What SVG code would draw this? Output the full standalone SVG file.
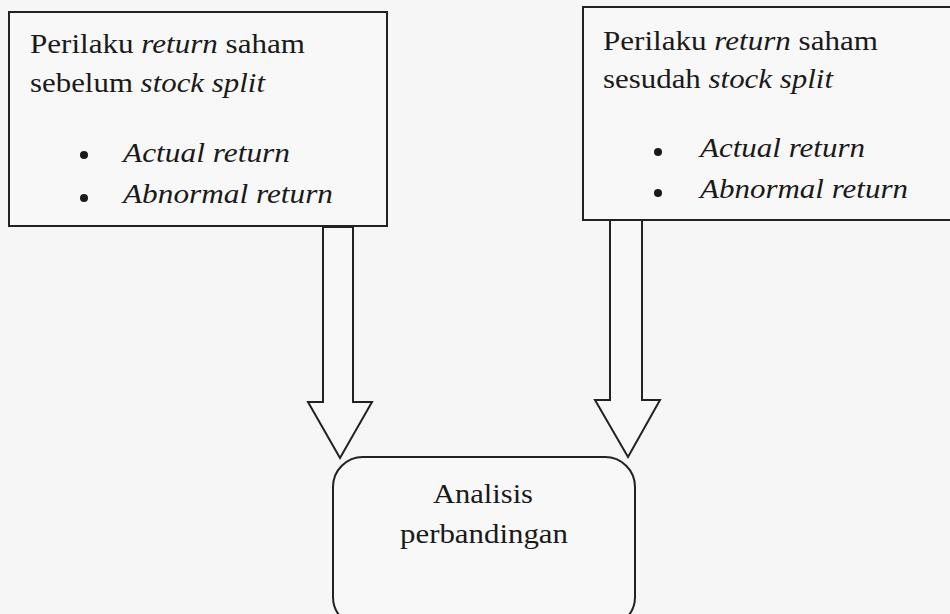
<svg xmlns="http://www.w3.org/2000/svg" width="950" height="614" viewBox="0 0 950 614">
<style>
.box{fill:#f8f8f8;stroke:#222;stroke-width:2}
.arr{fill:#f8f8f8;stroke:#222;stroke-width:2;stroke-linejoin:miter}
text{font-family:"Liberation Serif","Times New Roman",serif;font-size:27px;fill:#1a1a1a}
.i{font-style:italic}
</style>
<rect width="950" height="614" fill="#f6f6f6"/>
<g id="connectors">
<polygon class="arr" points="323,227 353,227 353,402 372,402 340,458 308,402 323,402"/>
<polygon class="arr" points="610,220 642,220 642,400 660,400 628,457 595,400 610,400"/>
</g>
<g id="node-before">
<rect class="box" x="9" y="12" width="378" height="214"/>
<text x="30" y="53" textLength="275" lengthAdjust="spacingAndGlyphs">Perilaku <tspan class="i">return</tspan> saham</text>
<text x="30" y="92" textLength="235" lengthAdjust="spacingAndGlyphs">sebelum <tspan class="i">stock split</tspan></text>
<circle cx="84" cy="155" r="4" fill="#1a1a1a"/>
<text class="i" x="123" y="162" textLength="167" lengthAdjust="spacingAndGlyphs">Actual return</text>
<circle cx="84" cy="198" r="4" fill="#1a1a1a"/>
<text class="i" x="123" y="203" textLength="210" lengthAdjust="spacingAndGlyphs">Abnormal return</text>
</g>
<g id="node-after">
<rect class="box" x="583" y="7" width="380" height="213"/>
<text x="603" y="50" textLength="275" lengthAdjust="spacingAndGlyphs">Perilaku <tspan class="i">return</tspan> saham</text>
<text x="603" y="88" textLength="230" lengthAdjust="spacingAndGlyphs">sesudah <tspan class="i">stock split</tspan></text>
<circle cx="658" cy="152" r="4" fill="#1a1a1a"/>
<text class="i" x="700" y="157" textLength="165" lengthAdjust="spacingAndGlyphs">Actual return</text>
<circle cx="658" cy="193" r="4" fill="#1a1a1a"/>
<text class="i" x="700" y="198" textLength="208" lengthAdjust="spacingAndGlyphs">Abnormal return</text>
</g>
<g id="node-analysis">
<rect class="box" x="333" y="457" width="302" height="170" rx="30" ry="30"/>
<text x="433" y="503" textLength="100" lengthAdjust="spacingAndGlyphs">Analisis</text>
<text x="400" y="543" textLength="168" lengthAdjust="spacingAndGlyphs">perbandingan</text>
</g>
</svg>
